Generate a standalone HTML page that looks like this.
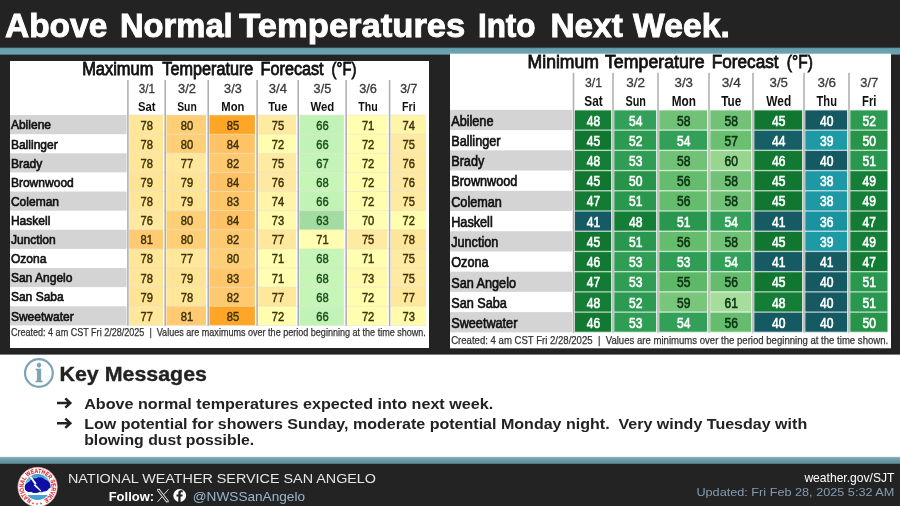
<!DOCTYPE html>
<html lang="en"><head><meta charset="utf-8"><title>Above Normal Temperatures Into Next Week.</title>
<style>html,body{margin:0;padding:0;background:#232323;}body{width:900px;height:506px;overflow:hidden;font-family:"Liberation Sans",Arial,sans-serif}svg{display:block}</style>
</head><body>
<svg width="900" height="506" viewBox="0 0 900 506" font-family="'Liberation Sans', Arial, sans-serif">
<defs><linearGradient id="tl2" x1="0" y1="0" x2="0" y2="1"><stop offset="0" stop-color="#a5c0ca"/><stop offset="0.15" stop-color="#7ea4b3"/><stop offset="0.8" stop-color="#5f909d"/><stop offset="1" stop-color="#466b75"/></linearGradient><linearGradient id="tl" x1="0" y1="0" x2="0" y2="1"><stop offset="0" stop-color="#3c5a63"/><stop offset="0.18" stop-color="#66a0ae"/><stop offset="1" stop-color="#6ca5b3"/></linearGradient></defs>
<rect width="900" height="506" fill="#232323"/>
<text y="36.7" font-size="33" font-weight="700" fill="#ffffff" stroke="#ffffff" stroke-width="0.9"><tspan x="5" textLength="102.3" lengthAdjust="spacingAndGlyphs">Above</tspan> <tspan x="120" textLength="112.7" lengthAdjust="spacingAndGlyphs">Normal</tspan> <tspan x="239.3" textLength="226.0" lengthAdjust="spacingAndGlyphs">Temperatures</tspan> <tspan x="477.9" textLength="57.7" lengthAdjust="spacingAndGlyphs">Into</tspan> <tspan x="550.4" textLength="72.4" lengthAdjust="spacingAndGlyphs">Next</tspan> <tspan x="633" textLength="97.0" lengthAdjust="spacingAndGlyphs">Week.</tspan></text>
<rect x="0" y="47.4" width="900" height="7.2" fill="url(#tl)"/>
<rect x="10" y="61" width="419" height="287" fill="#fff"/>
<text x="82.20" y="75.30" font-size="17.5" fill="#111" textLength="71.20" lengthAdjust="spacingAndGlyphs" stroke="#111" stroke-width="0.8">Maximum</text>
<text x="162.30" y="75.30" font-size="17.5" fill="#111" textLength="91.10" lengthAdjust="spacingAndGlyphs" stroke="#111" stroke-width="0.8">Temperature</text>
<text x="260.60" y="75.30" font-size="17.5" fill="#111" textLength="63.00" lengthAdjust="spacingAndGlyphs" stroke="#111" stroke-width="0.8">Forecast</text>
<text x="331.60" y="75.30" font-size="17.5" fill="#111" textLength="24.80" lengthAdjust="spacingAndGlyphs" stroke="#111" stroke-width="0.8">(°F)</text>
<rect x="10" y="115.05" width="116.50" height="19.12" fill="#d4d4d4"/>
<text x="10.90" y="129.39" font-size="13.3" fill="#111" textLength="40.15" lengthAdjust="spacingAndGlyphs" stroke="#111" stroke-width="0.65">Abilene</text>
<text x="10.90" y="148.51" font-size="13.3" fill="#111" textLength="46.84" lengthAdjust="spacingAndGlyphs" stroke="#111" stroke-width="0.65">Ballinger</text>
<rect x="10" y="153.29" width="116.50" height="19.12" fill="#d4d4d4"/>
<text x="10.90" y="167.63" font-size="13.3" fill="#111" textLength="31.44" lengthAdjust="spacingAndGlyphs" stroke="#111" stroke-width="0.65">Brady</text>
<text x="10.90" y="186.75" font-size="13.3" fill="#111" textLength="62.89" lengthAdjust="spacingAndGlyphs" stroke="#111" stroke-width="0.65">Brownwood</text>
<rect x="10" y="191.53" width="116.50" height="19.12" fill="#d4d4d4"/>
<text x="10.90" y="205.87" font-size="13.3" fill="#111" textLength="48.17" lengthAdjust="spacingAndGlyphs" stroke="#111" stroke-width="0.65">Coleman</text>
<text x="10.90" y="224.99" font-size="13.3" fill="#111" textLength="39.47" lengthAdjust="spacingAndGlyphs" stroke="#111" stroke-width="0.65">Haskell</text>
<rect x="10" y="229.77" width="116.50" height="19.12" fill="#d4d4d4"/>
<text x="10.90" y="244.11" font-size="13.3" fill="#111" textLength="44.83" lengthAdjust="spacingAndGlyphs" stroke="#111" stroke-width="0.65">Junction</text>
<text x="10.90" y="263.23" font-size="13.3" fill="#111" textLength="35.46" lengthAdjust="spacingAndGlyphs" stroke="#111" stroke-width="0.65">Ozona</text>
<rect x="10" y="268.01" width="116.50" height="19.12" fill="#d4d4d4"/>
<text x="10.90" y="282.35" font-size="13.3" fill="#111" textLength="61.58" lengthAdjust="spacingAndGlyphs" stroke="#111" stroke-width="0.65">San Angelo</text>
<text x="10.90" y="301.47" font-size="13.3" fill="#111" textLength="52.87" lengthAdjust="spacingAndGlyphs" stroke="#111" stroke-width="0.65">San Saba</text>
<rect x="10" y="306.25" width="116.50" height="19.12" fill="#d4d4d4"/>
<text x="10.90" y="320.59" font-size="13.3" fill="#111" textLength="62.89" lengthAdjust="spacingAndGlyphs" stroke="#111" stroke-width="0.65">Sweetwater</text>
<text x="146.80" y="93.00" font-size="12.3" fill="#3a3a3a" text-anchor="middle" textLength="16.23" lengthAdjust="spacingAndGlyphs" stroke="#3a3a3a" stroke-width="0.3">3/1</text>
<text x="146.80" y="110.90" font-size="13.4" fill="#111" font-weight="700" text-anchor="middle" textLength="17.57" lengthAdjust="spacingAndGlyphs">Sat</text>
<rect x="129.10" y="115.05" width="33.90" height="19.17" fill="#ffe699"/>
<text x="146.80" y="129.62" font-size="12.9" fill="#3d3208" text-anchor="middle" textLength="12.40" lengthAdjust="spacingAndGlyphs" stroke="#3d3208" stroke-width="0.45">78</text>
<rect x="129.10" y="134.17" width="33.90" height="19.17" fill="#ffe699"/>
<text x="146.80" y="148.74" font-size="12.9" fill="#3d3208" text-anchor="middle" textLength="12.40" lengthAdjust="spacingAndGlyphs" stroke="#3d3208" stroke-width="0.45">78</text>
<rect x="129.10" y="153.29" width="33.90" height="19.17" fill="#ffe699"/>
<text x="146.80" y="167.86" font-size="12.9" fill="#3d3208" text-anchor="middle" textLength="12.40" lengthAdjust="spacingAndGlyphs" stroke="#3d3208" stroke-width="0.45">78</text>
<rect x="129.10" y="172.41" width="33.90" height="19.17" fill="#ffe496"/>
<text x="146.80" y="186.98" font-size="12.9" fill="#3d3208" text-anchor="middle" textLength="12.40" lengthAdjust="spacingAndGlyphs" stroke="#3d3208" stroke-width="0.45">79</text>
<rect x="129.10" y="191.53" width="33.90" height="19.17" fill="#ffe699"/>
<text x="146.80" y="206.10" font-size="12.9" fill="#3d3208" text-anchor="middle" textLength="12.40" lengthAdjust="spacingAndGlyphs" stroke="#3d3208" stroke-width="0.45">78</text>
<rect x="129.10" y="210.65" width="33.90" height="19.17" fill="#ffe89f"/>
<text x="146.80" y="225.22" font-size="12.9" fill="#3d3208" text-anchor="middle" textLength="12.40" lengthAdjust="spacingAndGlyphs" stroke="#3d3208" stroke-width="0.45">76</text>
<rect x="129.10" y="229.77" width="33.90" height="19.17" fill="#ffca72"/>
<text x="146.80" y="244.34" font-size="12.9" fill="#3d3208" text-anchor="middle" textLength="12.40" lengthAdjust="spacingAndGlyphs" stroke="#3d3208" stroke-width="0.45">81</text>
<rect x="129.10" y="248.89" width="33.90" height="19.17" fill="#ffe699"/>
<text x="146.80" y="263.46" font-size="12.9" fill="#3d3208" text-anchor="middle" textLength="12.40" lengthAdjust="spacingAndGlyphs" stroke="#3d3208" stroke-width="0.45">78</text>
<rect x="129.10" y="268.01" width="33.90" height="19.17" fill="#ffe699"/>
<text x="146.80" y="282.58" font-size="12.9" fill="#3d3208" text-anchor="middle" textLength="12.40" lengthAdjust="spacingAndGlyphs" stroke="#3d3208" stroke-width="0.45">78</text>
<rect x="129.10" y="287.13" width="33.90" height="19.17" fill="#ffe496"/>
<text x="146.80" y="301.70" font-size="12.9" fill="#3d3208" text-anchor="middle" textLength="12.40" lengthAdjust="spacingAndGlyphs" stroke="#3d3208" stroke-width="0.45">79</text>
<rect x="129.10" y="306.25" width="33.90" height="19.17" fill="#ffe79c"/>
<text x="146.80" y="320.82" font-size="12.9" fill="#3d3208" text-anchor="middle" textLength="12.40" lengthAdjust="spacingAndGlyphs" stroke="#3d3208" stroke-width="0.45">77</text>
<text x="186.95" y="93.00" font-size="12.3" fill="#3a3a3a" text-anchor="middle" textLength="17.95" lengthAdjust="spacingAndGlyphs" stroke="#3a3a3a" stroke-width="0.3">3/2</text>
<text x="186.95" y="110.90" font-size="13.4" fill="#111" font-weight="700" text-anchor="middle" textLength="19.58" lengthAdjust="spacingAndGlyphs">Sun</text>
<rect x="166.40" y="115.05" width="39.60" height="19.17" fill="#ffcf78"/>
<text x="186.95" y="129.62" font-size="12.9" fill="#3d3208" text-anchor="middle" textLength="12.40" lengthAdjust="spacingAndGlyphs" stroke="#3d3208" stroke-width="0.45">80</text>
<rect x="166.40" y="134.17" width="39.60" height="19.17" fill="#ffcf78"/>
<text x="186.95" y="148.74" font-size="12.9" fill="#3d3208" text-anchor="middle" textLength="12.40" lengthAdjust="spacingAndGlyphs" stroke="#3d3208" stroke-width="0.45">80</text>
<rect x="166.40" y="153.29" width="39.60" height="19.17" fill="#ffe79c"/>
<text x="186.95" y="167.86" font-size="12.9" fill="#3d3208" text-anchor="middle" textLength="12.40" lengthAdjust="spacingAndGlyphs" stroke="#3d3208" stroke-width="0.45">77</text>
<rect x="166.40" y="172.41" width="39.60" height="19.17" fill="#ffe496"/>
<text x="186.95" y="186.98" font-size="12.9" fill="#3d3208" text-anchor="middle" textLength="12.40" lengthAdjust="spacingAndGlyphs" stroke="#3d3208" stroke-width="0.45">79</text>
<rect x="166.40" y="191.53" width="39.60" height="19.17" fill="#ffe496"/>
<text x="186.95" y="206.10" font-size="12.9" fill="#3d3208" text-anchor="middle" textLength="12.40" lengthAdjust="spacingAndGlyphs" stroke="#3d3208" stroke-width="0.45">79</text>
<rect x="166.40" y="210.65" width="39.60" height="19.17" fill="#ffcf78"/>
<text x="186.95" y="225.22" font-size="12.9" fill="#3d3208" text-anchor="middle" textLength="12.40" lengthAdjust="spacingAndGlyphs" stroke="#3d3208" stroke-width="0.45">80</text>
<rect x="166.40" y="229.77" width="39.60" height="19.17" fill="#ffcf78"/>
<text x="186.95" y="244.34" font-size="12.9" fill="#3d3208" text-anchor="middle" textLength="12.40" lengthAdjust="spacingAndGlyphs" stroke="#3d3208" stroke-width="0.45">80</text>
<rect x="166.40" y="248.89" width="39.60" height="19.17" fill="#ffe79c"/>
<text x="186.95" y="263.46" font-size="12.9" fill="#3d3208" text-anchor="middle" textLength="12.40" lengthAdjust="spacingAndGlyphs" stroke="#3d3208" stroke-width="0.45">77</text>
<rect x="166.40" y="268.01" width="39.60" height="19.17" fill="#ffe496"/>
<text x="186.95" y="282.58" font-size="12.9" fill="#3d3208" text-anchor="middle" textLength="12.40" lengthAdjust="spacingAndGlyphs" stroke="#3d3208" stroke-width="0.45">79</text>
<rect x="166.40" y="287.13" width="39.60" height="19.17" fill="#ffe699"/>
<text x="186.95" y="301.70" font-size="12.9" fill="#3d3208" text-anchor="middle" textLength="12.40" lengthAdjust="spacingAndGlyphs" stroke="#3d3208" stroke-width="0.45">78</text>
<rect x="166.40" y="306.25" width="39.60" height="19.17" fill="#ffca72"/>
<text x="186.95" y="320.82" font-size="12.9" fill="#3d3208" text-anchor="middle" textLength="12.40" lengthAdjust="spacingAndGlyphs" stroke="#3d3208" stroke-width="0.45">81</text>
<text x="232.90" y="93.00" font-size="12.3" fill="#3a3a3a" text-anchor="middle" textLength="17.57" lengthAdjust="spacingAndGlyphs" stroke="#3a3a3a" stroke-width="0.3">3/3</text>
<text x="232.90" y="110.90" font-size="13.4" fill="#111" font-weight="700" text-anchor="middle" textLength="23.11" lengthAdjust="spacingAndGlyphs">Mon</text>
<rect x="209.40" y="115.05" width="45.50" height="19.17" fill="#ffa626"/>
<text x="232.90" y="129.62" font-size="12.9" fill="#3d3208" text-anchor="middle" textLength="12.40" lengthAdjust="spacingAndGlyphs" stroke="#3d3208" stroke-width="0.45">85</text>
<rect x="209.40" y="134.17" width="45.50" height="19.17" fill="#ffc264"/>
<text x="232.90" y="148.74" font-size="12.9" fill="#3d3208" text-anchor="middle" textLength="12.40" lengthAdjust="spacingAndGlyphs" stroke="#3d3208" stroke-width="0.45">84</text>
<rect x="209.40" y="153.29" width="45.50" height="19.17" fill="#ffc970"/>
<text x="232.90" y="167.86" font-size="12.9" fill="#3d3208" text-anchor="middle" textLength="12.40" lengthAdjust="spacingAndGlyphs" stroke="#3d3208" stroke-width="0.45">82</text>
<rect x="209.40" y="172.41" width="45.50" height="19.17" fill="#ffc264"/>
<text x="232.90" y="186.98" font-size="12.9" fill="#3d3208" text-anchor="middle" textLength="12.40" lengthAdjust="spacingAndGlyphs" stroke="#3d3208" stroke-width="0.45">84</text>
<rect x="209.40" y="191.53" width="45.50" height="19.17" fill="#ffc66a"/>
<text x="232.90" y="206.10" font-size="12.9" fill="#3d3208" text-anchor="middle" textLength="12.40" lengthAdjust="spacingAndGlyphs" stroke="#3d3208" stroke-width="0.45">83</text>
<rect x="209.40" y="210.65" width="45.50" height="19.17" fill="#ffc264"/>
<text x="232.90" y="225.22" font-size="12.9" fill="#3d3208" text-anchor="middle" textLength="12.40" lengthAdjust="spacingAndGlyphs" stroke="#3d3208" stroke-width="0.45">84</text>
<rect x="209.40" y="229.77" width="45.50" height="19.17" fill="#ffc970"/>
<text x="232.90" y="244.34" font-size="12.9" fill="#3d3208" text-anchor="middle" textLength="12.40" lengthAdjust="spacingAndGlyphs" stroke="#3d3208" stroke-width="0.45">82</text>
<rect x="209.40" y="248.89" width="45.50" height="19.17" fill="#ffcf78"/>
<text x="232.90" y="263.46" font-size="12.9" fill="#3d3208" text-anchor="middle" textLength="12.40" lengthAdjust="spacingAndGlyphs" stroke="#3d3208" stroke-width="0.45">80</text>
<rect x="209.40" y="268.01" width="45.50" height="19.17" fill="#ffc66a"/>
<text x="232.90" y="282.58" font-size="12.9" fill="#3d3208" text-anchor="middle" textLength="12.40" lengthAdjust="spacingAndGlyphs" stroke="#3d3208" stroke-width="0.45">83</text>
<rect x="209.40" y="287.13" width="45.50" height="19.17" fill="#ffc970"/>
<text x="232.90" y="301.70" font-size="12.9" fill="#3d3208" text-anchor="middle" textLength="12.40" lengthAdjust="spacingAndGlyphs" stroke="#3d3208" stroke-width="0.45">82</text>
<rect x="209.40" y="306.25" width="45.50" height="19.17" fill="#ffa626"/>
<text x="232.90" y="320.82" font-size="12.9" fill="#3d3208" text-anchor="middle" textLength="12.40" lengthAdjust="spacingAndGlyphs" stroke="#3d3208" stroke-width="0.45">85</text>
<text x="277.90" y="93.00" font-size="12.3" fill="#3a3a3a" text-anchor="middle" textLength="18.14" lengthAdjust="spacingAndGlyphs" stroke="#3a3a3a" stroke-width="0.3">3/4</text>
<text x="277.90" y="110.90" font-size="13.4" fill="#111" font-weight="700" text-anchor="middle" textLength="19.10" lengthAdjust="spacingAndGlyphs">Tue</text>
<rect x="258.30" y="115.05" width="37.70" height="19.17" fill="#ffeaa2"/>
<text x="277.90" y="129.62" font-size="12.9" fill="#3d3208" text-anchor="middle" textLength="12.40" lengthAdjust="spacingAndGlyphs" stroke="#3d3208" stroke-width="0.45">75</text>
<rect x="258.30" y="134.17" width="37.70" height="19.17" fill="#fffdae"/>
<text x="277.90" y="148.74" font-size="12.9" fill="#3d3208" text-anchor="middle" textLength="12.40" lengthAdjust="spacingAndGlyphs" stroke="#3d3208" stroke-width="0.45">72</text>
<rect x="258.30" y="153.29" width="37.70" height="19.17" fill="#ffeaa2"/>
<text x="277.90" y="167.86" font-size="12.9" fill="#3d3208" text-anchor="middle" textLength="12.40" lengthAdjust="spacingAndGlyphs" stroke="#3d3208" stroke-width="0.45">75</text>
<rect x="258.30" y="172.41" width="37.70" height="19.17" fill="#ffe89f"/>
<text x="277.90" y="186.98" font-size="12.9" fill="#3d3208" text-anchor="middle" textLength="12.40" lengthAdjust="spacingAndGlyphs" stroke="#3d3208" stroke-width="0.45">76</text>
<rect x="258.30" y="191.53" width="37.70" height="19.17" fill="#fff5a8"/>
<text x="277.90" y="206.10" font-size="12.9" fill="#3d3208" text-anchor="middle" textLength="12.40" lengthAdjust="spacingAndGlyphs" stroke="#3d3208" stroke-width="0.45">74</text>
<rect x="258.30" y="210.65" width="37.70" height="19.17" fill="#fffaac"/>
<text x="277.90" y="225.22" font-size="12.9" fill="#3d3208" text-anchor="middle" textLength="12.40" lengthAdjust="spacingAndGlyphs" stroke="#3d3208" stroke-width="0.45">73</text>
<rect x="258.30" y="229.77" width="37.70" height="19.17" fill="#ffe79c"/>
<text x="277.90" y="244.34" font-size="12.9" fill="#3d3208" text-anchor="middle" textLength="12.40" lengthAdjust="spacingAndGlyphs" stroke="#3d3208" stroke-width="0.45">77</text>
<rect x="258.30" y="248.89" width="37.70" height="19.17" fill="#fffeb1"/>
<text x="277.90" y="263.46" font-size="12.9" fill="#3d3208" text-anchor="middle" textLength="12.40" lengthAdjust="spacingAndGlyphs" stroke="#3d3208" stroke-width="0.45">71</text>
<rect x="258.30" y="268.01" width="37.70" height="19.17" fill="#fffeb1"/>
<text x="277.90" y="282.58" font-size="12.9" fill="#3d3208" text-anchor="middle" textLength="12.40" lengthAdjust="spacingAndGlyphs" stroke="#3d3208" stroke-width="0.45">71</text>
<rect x="258.30" y="287.13" width="37.70" height="19.17" fill="#ffe79c"/>
<text x="277.90" y="301.70" font-size="12.9" fill="#3d3208" text-anchor="middle" textLength="12.40" lengthAdjust="spacingAndGlyphs" stroke="#3d3208" stroke-width="0.45">77</text>
<rect x="258.30" y="306.25" width="37.70" height="19.17" fill="#fffdae"/>
<text x="277.90" y="320.82" font-size="12.9" fill="#3d3208" text-anchor="middle" textLength="12.40" lengthAdjust="spacingAndGlyphs" stroke="#3d3208" stroke-width="0.45">72</text>
<text x="322.40" y="93.00" font-size="12.3" fill="#3a3a3a" text-anchor="middle" textLength="17.57" lengthAdjust="spacingAndGlyphs" stroke="#3a3a3a" stroke-width="0.3">3/5</text>
<text x="322.40" y="110.90" font-size="13.4" fill="#111" font-weight="700" text-anchor="middle" textLength="23.78" lengthAdjust="spacingAndGlyphs">Wed</text>
<rect x="299.40" y="115.05" width="44.50" height="19.17" fill="#c2f3b6"/>
<text x="322.40" y="129.62" font-size="12.9" fill="#1f4d1f" text-anchor="middle" textLength="12.40" lengthAdjust="spacingAndGlyphs" stroke="#1f4d1f" stroke-width="0.45">66</text>
<rect x="299.40" y="134.17" width="44.50" height="19.17" fill="#c2f3b6"/>
<text x="322.40" y="148.74" font-size="12.9" fill="#1f4d1f" text-anchor="middle" textLength="12.40" lengthAdjust="spacingAndGlyphs" stroke="#1f4d1f" stroke-width="0.45">66</text>
<rect x="299.40" y="153.29" width="44.50" height="19.17" fill="#c4f4b7"/>
<text x="322.40" y="167.86" font-size="12.9" fill="#1f4d1f" text-anchor="middle" textLength="12.40" lengthAdjust="spacingAndGlyphs" stroke="#1f4d1f" stroke-width="0.45">67</text>
<rect x="299.40" y="172.41" width="44.50" height="19.17" fill="#c6f5b8"/>
<text x="322.40" y="186.98" font-size="12.9" fill="#1f4d1f" text-anchor="middle" textLength="12.40" lengthAdjust="spacingAndGlyphs" stroke="#1f4d1f" stroke-width="0.45">68</text>
<rect x="299.40" y="191.53" width="44.50" height="19.17" fill="#c2f3b6"/>
<text x="322.40" y="206.10" font-size="12.9" fill="#1f4d1f" text-anchor="middle" textLength="12.40" lengthAdjust="spacingAndGlyphs" stroke="#1f4d1f" stroke-width="0.45">66</text>
<rect x="299.40" y="210.65" width="44.50" height="19.17" fill="#a3dca0"/>
<text x="322.40" y="225.22" font-size="12.9" fill="#1f4d1f" text-anchor="middle" textLength="12.40" lengthAdjust="spacingAndGlyphs" stroke="#1f4d1f" stroke-width="0.45">63</text>
<rect x="299.40" y="229.77" width="44.50" height="19.17" fill="#fffeb1"/>
<text x="322.40" y="244.34" font-size="12.9" fill="#3d3208" text-anchor="middle" textLength="12.40" lengthAdjust="spacingAndGlyphs" stroke="#3d3208" stroke-width="0.45">71</text>
<rect x="299.40" y="248.89" width="44.50" height="19.17" fill="#c6f5b8"/>
<text x="322.40" y="263.46" font-size="12.9" fill="#1f4d1f" text-anchor="middle" textLength="12.40" lengthAdjust="spacingAndGlyphs" stroke="#1f4d1f" stroke-width="0.45">68</text>
<rect x="299.40" y="268.01" width="44.50" height="19.17" fill="#c6f5b8"/>
<text x="322.40" y="282.58" font-size="12.9" fill="#1f4d1f" text-anchor="middle" textLength="12.40" lengthAdjust="spacingAndGlyphs" stroke="#1f4d1f" stroke-width="0.45">68</text>
<rect x="299.40" y="287.13" width="44.50" height="19.17" fill="#c6f5b8"/>
<text x="322.40" y="301.70" font-size="12.9" fill="#1f4d1f" text-anchor="middle" textLength="12.40" lengthAdjust="spacingAndGlyphs" stroke="#1f4d1f" stroke-width="0.45">68</text>
<rect x="299.40" y="306.25" width="44.50" height="19.17" fill="#c2f3b6"/>
<text x="322.40" y="320.82" font-size="12.9" fill="#1f4d1f" text-anchor="middle" textLength="12.40" lengthAdjust="spacingAndGlyphs" stroke="#1f4d1f" stroke-width="0.45">66</text>
<text x="368.10" y="93.00" font-size="12.3" fill="#3a3a3a" text-anchor="middle" textLength="17.76" lengthAdjust="spacingAndGlyphs" stroke="#3a3a3a" stroke-width="0.3">3/6</text>
<text x="368.10" y="110.90" font-size="13.4" fill="#111" font-weight="700" text-anchor="middle" textLength="19.48" lengthAdjust="spacingAndGlyphs">Thu</text>
<rect x="347.30" y="115.05" width="40.10" height="19.17" fill="#fffeb1"/>
<text x="368.10" y="129.62" font-size="12.9" fill="#3d3208" text-anchor="middle" textLength="12.40" lengthAdjust="spacingAndGlyphs" stroke="#3d3208" stroke-width="0.45">71</text>
<rect x="347.30" y="134.17" width="40.10" height="19.17" fill="#fffdae"/>
<text x="368.10" y="148.74" font-size="12.9" fill="#3d3208" text-anchor="middle" textLength="12.40" lengthAdjust="spacingAndGlyphs" stroke="#3d3208" stroke-width="0.45">72</text>
<rect x="347.30" y="153.29" width="40.10" height="19.17" fill="#fffdae"/>
<text x="368.10" y="167.86" font-size="12.9" fill="#3d3208" text-anchor="middle" textLength="12.40" lengthAdjust="spacingAndGlyphs" stroke="#3d3208" stroke-width="0.45">72</text>
<rect x="347.30" y="172.41" width="40.10" height="19.17" fill="#fffdae"/>
<text x="368.10" y="186.98" font-size="12.9" fill="#3d3208" text-anchor="middle" textLength="12.40" lengthAdjust="spacingAndGlyphs" stroke="#3d3208" stroke-width="0.45">72</text>
<rect x="347.30" y="191.53" width="40.10" height="19.17" fill="#fffdae"/>
<text x="368.10" y="206.10" font-size="12.9" fill="#3d3208" text-anchor="middle" textLength="12.40" lengthAdjust="spacingAndGlyphs" stroke="#3d3208" stroke-width="0.45">72</text>
<rect x="347.30" y="210.65" width="40.10" height="19.17" fill="#ffffb4"/>
<text x="368.10" y="225.22" font-size="12.9" fill="#3d3208" text-anchor="middle" textLength="12.40" lengthAdjust="spacingAndGlyphs" stroke="#3d3208" stroke-width="0.45">70</text>
<rect x="347.30" y="229.77" width="40.10" height="19.17" fill="#ffeaa2"/>
<text x="368.10" y="244.34" font-size="12.9" fill="#3d3208" text-anchor="middle" textLength="12.40" lengthAdjust="spacingAndGlyphs" stroke="#3d3208" stroke-width="0.45">75</text>
<rect x="347.30" y="248.89" width="40.10" height="19.17" fill="#fffeb1"/>
<text x="368.10" y="263.46" font-size="12.9" fill="#3d3208" text-anchor="middle" textLength="12.40" lengthAdjust="spacingAndGlyphs" stroke="#3d3208" stroke-width="0.45">71</text>
<rect x="347.30" y="268.01" width="40.10" height="19.17" fill="#fffaac"/>
<text x="368.10" y="282.58" font-size="12.9" fill="#3d3208" text-anchor="middle" textLength="12.40" lengthAdjust="spacingAndGlyphs" stroke="#3d3208" stroke-width="0.45">73</text>
<rect x="347.30" y="287.13" width="40.10" height="19.17" fill="#fffdae"/>
<text x="368.10" y="301.70" font-size="12.9" fill="#3d3208" text-anchor="middle" textLength="12.40" lengthAdjust="spacingAndGlyphs" stroke="#3d3208" stroke-width="0.45">72</text>
<rect x="347.30" y="306.25" width="40.10" height="19.17" fill="#fffdae"/>
<text x="368.10" y="320.82" font-size="12.9" fill="#3d3208" text-anchor="middle" textLength="12.40" lengthAdjust="spacingAndGlyphs" stroke="#3d3208" stroke-width="0.45">72</text>
<text x="408.80" y="93.00" font-size="12.3" fill="#3a3a3a" text-anchor="middle" textLength="17.09" lengthAdjust="spacingAndGlyphs" stroke="#3a3a3a" stroke-width="0.3">3/7</text>
<text x="408.80" y="110.90" font-size="13.4" fill="#111" font-weight="700" text-anchor="middle" textLength="13.75" lengthAdjust="spacingAndGlyphs">Fri</text>
<rect x="390.80" y="115.05" width="35.20" height="19.17" fill="#fff5a8"/>
<text x="408.80" y="129.62" font-size="12.9" fill="#3d3208" text-anchor="middle" textLength="12.40" lengthAdjust="spacingAndGlyphs" stroke="#3d3208" stroke-width="0.45">74</text>
<rect x="390.80" y="134.17" width="35.20" height="19.17" fill="#ffeaa2"/>
<text x="408.80" y="148.74" font-size="12.9" fill="#3d3208" text-anchor="middle" textLength="12.40" lengthAdjust="spacingAndGlyphs" stroke="#3d3208" stroke-width="0.45">75</text>
<rect x="390.80" y="153.29" width="35.20" height="19.17" fill="#ffe89f"/>
<text x="408.80" y="167.86" font-size="12.9" fill="#3d3208" text-anchor="middle" textLength="12.40" lengthAdjust="spacingAndGlyphs" stroke="#3d3208" stroke-width="0.45">76</text>
<rect x="390.80" y="172.41" width="35.20" height="19.17" fill="#ffe89f"/>
<text x="408.80" y="186.98" font-size="12.9" fill="#3d3208" text-anchor="middle" textLength="12.40" lengthAdjust="spacingAndGlyphs" stroke="#3d3208" stroke-width="0.45">76</text>
<rect x="390.80" y="191.53" width="35.20" height="19.17" fill="#ffeaa2"/>
<text x="408.80" y="206.10" font-size="12.9" fill="#3d3208" text-anchor="middle" textLength="12.40" lengthAdjust="spacingAndGlyphs" stroke="#3d3208" stroke-width="0.45">75</text>
<rect x="390.80" y="210.65" width="35.20" height="19.17" fill="#fffdae"/>
<text x="408.80" y="225.22" font-size="12.9" fill="#3d3208" text-anchor="middle" textLength="12.40" lengthAdjust="spacingAndGlyphs" stroke="#3d3208" stroke-width="0.45">72</text>
<rect x="390.80" y="229.77" width="35.20" height="19.17" fill="#ffe699"/>
<text x="408.80" y="244.34" font-size="12.9" fill="#3d3208" text-anchor="middle" textLength="12.40" lengthAdjust="spacingAndGlyphs" stroke="#3d3208" stroke-width="0.45">78</text>
<rect x="390.80" y="248.89" width="35.20" height="19.17" fill="#ffeaa2"/>
<text x="408.80" y="263.46" font-size="12.9" fill="#3d3208" text-anchor="middle" textLength="12.40" lengthAdjust="spacingAndGlyphs" stroke="#3d3208" stroke-width="0.45">75</text>
<rect x="390.80" y="268.01" width="35.20" height="19.17" fill="#ffeaa2"/>
<text x="408.80" y="282.58" font-size="12.9" fill="#3d3208" text-anchor="middle" textLength="12.40" lengthAdjust="spacingAndGlyphs" stroke="#3d3208" stroke-width="0.45">75</text>
<rect x="390.80" y="287.13" width="35.20" height="19.17" fill="#ffe79c"/>
<text x="408.80" y="301.70" font-size="12.9" fill="#3d3208" text-anchor="middle" textLength="12.40" lengthAdjust="spacingAndGlyphs" stroke="#3d3208" stroke-width="0.45">77</text>
<rect x="390.80" y="306.25" width="35.20" height="19.17" fill="#fffaac"/>
<text x="408.80" y="320.82" font-size="12.9" fill="#3d3208" text-anchor="middle" textLength="12.40" lengthAdjust="spacingAndGlyphs" stroke="#3d3208" stroke-width="0.45">73</text>
<rect x="129.10" y="114.60" width="296.90" height="0.90" fill="rgba(225,222,205,0.55)"/>
<rect x="129.10" y="133.72" width="296.90" height="0.90" fill="rgba(225,222,205,0.55)"/>
<rect x="129.10" y="152.84" width="296.90" height="0.90" fill="rgba(225,222,205,0.55)"/>
<rect x="129.10" y="171.96" width="296.90" height="0.90" fill="rgba(225,222,205,0.55)"/>
<rect x="129.10" y="191.08" width="296.90" height="0.90" fill="rgba(225,222,205,0.55)"/>
<rect x="129.10" y="210.20" width="296.90" height="0.90" fill="rgba(225,222,205,0.55)"/>
<rect x="129.10" y="229.32" width="296.90" height="0.90" fill="rgba(225,222,205,0.55)"/>
<rect x="129.10" y="248.44" width="296.90" height="0.90" fill="rgba(225,222,205,0.55)"/>
<rect x="129.10" y="267.56" width="296.90" height="0.90" fill="rgba(225,222,205,0.55)"/>
<rect x="129.10" y="286.68" width="296.90" height="0.90" fill="rgba(225,222,205,0.55)"/>
<rect x="129.10" y="305.80" width="296.90" height="0.90" fill="rgba(225,222,205,0.55)"/>
<rect x="129.10" y="324.92" width="296.90" height="0.90" fill="rgba(225,222,205,0.55)"/>
<rect x="127.15" y="80" width="1.5" height="245.77" fill="#adadad"/>
<rect x="164.45" y="80" width="1.5" height="245.77" fill="#adadad"/>
<rect x="207.45" y="80" width="1.5" height="245.77" fill="#adadad"/>
<rect x="256.35" y="80" width="1.5" height="245.77" fill="#adadad"/>
<rect x="297.45" y="80" width="1.5" height="245.77" fill="#adadad"/>
<rect x="345.35" y="80" width="1.5" height="245.77" fill="#adadad"/>
<rect x="388.85" y="80" width="1.5" height="245.77" fill="#adadad"/>
<text x="10.90" y="336.40" font-size="10.7" fill="#333" textLength="415.00" lengthAdjust="spacingAndGlyphs" stroke="#333" stroke-width="0.25">Created: 4 am CST Fri 2/28/2025  |  Values are maximums over the period beginning at the time shown.</text>
<rect x="450" y="53.7" width="441" height="294.6" fill="#fff"/>
<text x="527.60" y="68.10" font-size="18.7" fill="#111" textLength="71.40" lengthAdjust="spacingAndGlyphs" stroke="#111" stroke-width="0.8">Minimum</text>
<text x="605.00" y="68.10" font-size="18.7" fill="#111" textLength="99.60" lengthAdjust="spacingAndGlyphs" stroke="#111" stroke-width="0.8">Temperature</text>
<text x="711.80" y="68.10" font-size="18.7" fill="#111" textLength="66.80" lengthAdjust="spacingAndGlyphs" stroke="#111" stroke-width="0.8">Forecast</text>
<text x="786.80" y="68.10" font-size="18.7" fill="#111" textLength="26.00" lengthAdjust="spacingAndGlyphs" stroke="#111" stroke-width="0.8">(°F)</text>
<rect x="450" y="109.90" width="122.10" height="20.22" fill="#d4d4d4"/>
<text x="451.20" y="125.77" font-size="14" fill="#111" textLength="42.27" lengthAdjust="spacingAndGlyphs" stroke="#111" stroke-width="0.65">Abilene</text>
<text x="451.20" y="145.99" font-size="14" fill="#111" textLength="49.30" lengthAdjust="spacingAndGlyphs" stroke="#111" stroke-width="0.65">Ballinger</text>
<rect x="450" y="150.34" width="122.10" height="20.22" fill="#d4d4d4"/>
<text x="451.20" y="166.21" font-size="14" fill="#111" textLength="33.10" lengthAdjust="spacingAndGlyphs" stroke="#111" stroke-width="0.65">Brady</text>
<text x="451.20" y="186.43" font-size="14" fill="#111" textLength="66.20" lengthAdjust="spacingAndGlyphs" stroke="#111" stroke-width="0.65">Brownwood</text>
<rect x="450" y="190.78" width="122.10" height="20.22" fill="#d4d4d4"/>
<text x="451.20" y="206.65" font-size="14" fill="#111" textLength="50.71" lengthAdjust="spacingAndGlyphs" stroke="#111" stroke-width="0.65">Coleman</text>
<text x="451.20" y="226.87" font-size="14" fill="#111" textLength="41.54" lengthAdjust="spacingAndGlyphs" stroke="#111" stroke-width="0.65">Haskell</text>
<rect x="450" y="231.22" width="122.10" height="20.22" fill="#d4d4d4"/>
<text x="451.20" y="247.09" font-size="14" fill="#111" textLength="47.19" lengthAdjust="spacingAndGlyphs" stroke="#111" stroke-width="0.65">Junction</text>
<text x="451.20" y="267.31" font-size="14" fill="#111" textLength="37.33" lengthAdjust="spacingAndGlyphs" stroke="#111" stroke-width="0.65">Ozona</text>
<rect x="450" y="271.66" width="122.10" height="20.22" fill="#d4d4d4"/>
<text x="451.20" y="287.53" font-size="14" fill="#111" textLength="64.82" lengthAdjust="spacingAndGlyphs" stroke="#111" stroke-width="0.65">San Angelo</text>
<text x="451.20" y="307.75" font-size="14" fill="#111" textLength="55.66" lengthAdjust="spacingAndGlyphs" stroke="#111" stroke-width="0.65">San Saba</text>
<rect x="450" y="312.10" width="122.10" height="20.22" fill="#d4d4d4"/>
<text x="451.20" y="327.97" font-size="14" fill="#111" textLength="66.20" lengthAdjust="spacingAndGlyphs" stroke="#111" stroke-width="0.65">Sweetwater</text>
<text x="593.50" y="87.00" font-size="12.9" fill="#3a3a3a" text-anchor="middle" textLength="17.00" lengthAdjust="spacingAndGlyphs" stroke="#3a3a3a" stroke-width="0.3">3/1</text>
<text x="593.50" y="106.00" font-size="14.4" fill="#111" font-weight="700" text-anchor="middle" textLength="18.40" lengthAdjust="spacingAndGlyphs">Sat</text>
<rect x="574.80" y="109.90" width="36.40" height="20.27" fill="#147d36"/>
<text x="593.50" y="125.57" font-size="13.9" fill="#ffffff" text-anchor="middle" textLength="13.40" lengthAdjust="spacingAndGlyphs" stroke="#ffffff" stroke-width="0.6">48</text>
<rect x="574.80" y="130.12" width="36.40" height="20.27" fill="#117730"/>
<text x="593.50" y="145.79" font-size="13.9" fill="#ffffff" text-anchor="middle" textLength="13.40" lengthAdjust="spacingAndGlyphs" stroke="#ffffff" stroke-width="0.6">45</text>
<rect x="574.80" y="150.34" width="36.40" height="20.27" fill="#147d36"/>
<text x="593.50" y="166.01" font-size="13.9" fill="#ffffff" text-anchor="middle" textLength="13.40" lengthAdjust="spacingAndGlyphs" stroke="#ffffff" stroke-width="0.6">48</text>
<rect x="574.80" y="170.56" width="36.40" height="20.27" fill="#117730"/>
<text x="593.50" y="186.23" font-size="13.9" fill="#ffffff" text-anchor="middle" textLength="13.40" lengthAdjust="spacingAndGlyphs" stroke="#ffffff" stroke-width="0.6">45</text>
<rect x="574.80" y="190.78" width="36.40" height="20.27" fill="#137b34"/>
<text x="593.50" y="206.45" font-size="13.9" fill="#ffffff" text-anchor="middle" textLength="13.40" lengthAdjust="spacingAndGlyphs" stroke="#ffffff" stroke-width="0.6">47</text>
<rect x="574.80" y="211.00" width="36.40" height="20.27" fill="#165b63"/>
<text x="593.50" y="226.67" font-size="13.9" fill="#ffffff" text-anchor="middle" textLength="13.40" lengthAdjust="spacingAndGlyphs" stroke="#ffffff" stroke-width="0.6">41</text>
<rect x="574.80" y="231.22" width="36.40" height="20.27" fill="#117730"/>
<text x="593.50" y="246.89" font-size="13.9" fill="#ffffff" text-anchor="middle" textLength="13.40" lengthAdjust="spacingAndGlyphs" stroke="#ffffff" stroke-width="0.6">45</text>
<rect x="574.80" y="251.44" width="36.40" height="20.27" fill="#127932"/>
<text x="593.50" y="267.11" font-size="13.9" fill="#ffffff" text-anchor="middle" textLength="13.40" lengthAdjust="spacingAndGlyphs" stroke="#ffffff" stroke-width="0.6">46</text>
<rect x="574.80" y="271.66" width="36.40" height="20.27" fill="#137b34"/>
<text x="593.50" y="287.33" font-size="13.9" fill="#ffffff" text-anchor="middle" textLength="13.40" lengthAdjust="spacingAndGlyphs" stroke="#ffffff" stroke-width="0.6">47</text>
<rect x="574.80" y="291.88" width="36.40" height="20.27" fill="#147d36"/>
<text x="593.50" y="307.55" font-size="13.9" fill="#ffffff" text-anchor="middle" textLength="13.40" lengthAdjust="spacingAndGlyphs" stroke="#ffffff" stroke-width="0.6">48</text>
<rect x="574.80" y="312.10" width="36.40" height="20.27" fill="#127932"/>
<text x="593.50" y="327.77" font-size="13.9" fill="#ffffff" text-anchor="middle" textLength="13.40" lengthAdjust="spacingAndGlyphs" stroke="#ffffff" stroke-width="0.6">46</text>
<text x="635.75" y="87.00" font-size="12.9" fill="#3a3a3a" text-anchor="middle" textLength="18.80" lengthAdjust="spacingAndGlyphs" stroke="#3a3a3a" stroke-width="0.3">3/2</text>
<text x="635.75" y="106.00" font-size="14.4" fill="#111" font-weight="700" text-anchor="middle" textLength="20.50" lengthAdjust="spacingAndGlyphs">Sun</text>
<rect x="614.30" y="109.90" width="41.90" height="20.27" fill="#32a058"/>
<text x="635.75" y="125.57" font-size="13.9" fill="#ffffff" text-anchor="middle" textLength="13.40" lengthAdjust="spacingAndGlyphs" stroke="#ffffff" stroke-width="0.6">54</text>
<rect x="614.30" y="130.12" width="41.90" height="20.27" fill="#2c9a51"/>
<text x="635.75" y="145.79" font-size="13.9" fill="#ffffff" text-anchor="middle" textLength="13.40" lengthAdjust="spacingAndGlyphs" stroke="#ffffff" stroke-width="0.6">52</text>
<rect x="614.30" y="150.34" width="41.90" height="20.27" fill="#2f9d54"/>
<text x="635.75" y="166.01" font-size="13.9" fill="#ffffff" text-anchor="middle" textLength="13.40" lengthAdjust="spacingAndGlyphs" stroke="#ffffff" stroke-width="0.6">53</text>
<rect x="614.30" y="170.56" width="41.90" height="20.27" fill="#27944a"/>
<text x="635.75" y="186.23" font-size="13.9" fill="#ffffff" text-anchor="middle" textLength="13.40" lengthAdjust="spacingAndGlyphs" stroke="#ffffff" stroke-width="0.6">50</text>
<rect x="614.30" y="190.78" width="41.90" height="20.27" fill="#2a974e"/>
<text x="635.75" y="206.45" font-size="13.9" fill="#ffffff" text-anchor="middle" textLength="13.40" lengthAdjust="spacingAndGlyphs" stroke="#ffffff" stroke-width="0.6">51</text>
<rect x="614.30" y="211.00" width="41.90" height="20.27" fill="#147d36"/>
<text x="635.75" y="226.67" font-size="13.9" fill="#ffffff" text-anchor="middle" textLength="13.40" lengthAdjust="spacingAndGlyphs" stroke="#ffffff" stroke-width="0.6">48</text>
<rect x="614.30" y="231.22" width="41.90" height="20.27" fill="#2a974e"/>
<text x="635.75" y="246.89" font-size="13.9" fill="#ffffff" text-anchor="middle" textLength="13.40" lengthAdjust="spacingAndGlyphs" stroke="#ffffff" stroke-width="0.6">51</text>
<rect x="614.30" y="251.44" width="41.90" height="20.27" fill="#2f9d54"/>
<text x="635.75" y="267.11" font-size="13.9" fill="#ffffff" text-anchor="middle" textLength="13.40" lengthAdjust="spacingAndGlyphs" stroke="#ffffff" stroke-width="0.6">53</text>
<rect x="614.30" y="271.66" width="41.90" height="20.27" fill="#2f9d54"/>
<text x="635.75" y="287.33" font-size="13.9" fill="#ffffff" text-anchor="middle" textLength="13.40" lengthAdjust="spacingAndGlyphs" stroke="#ffffff" stroke-width="0.6">53</text>
<rect x="614.30" y="291.88" width="41.90" height="20.27" fill="#2c9a51"/>
<text x="635.75" y="307.55" font-size="13.9" fill="#ffffff" text-anchor="middle" textLength="13.40" lengthAdjust="spacingAndGlyphs" stroke="#ffffff" stroke-width="0.6">52</text>
<rect x="614.30" y="312.10" width="41.90" height="20.27" fill="#2f9d54"/>
<text x="635.75" y="327.77" font-size="13.9" fill="#ffffff" text-anchor="middle" textLength="13.40" lengthAdjust="spacingAndGlyphs" stroke="#ffffff" stroke-width="0.6">53</text>
<text x="683.75" y="87.00" font-size="12.9" fill="#3a3a3a" text-anchor="middle" textLength="18.40" lengthAdjust="spacingAndGlyphs" stroke="#3a3a3a" stroke-width="0.3">3/3</text>
<text x="683.75" y="106.00" font-size="14.4" fill="#111" font-weight="700" text-anchor="middle" textLength="24.20" lengthAdjust="spacingAndGlyphs">Mon</text>
<rect x="659.30" y="109.90" width="47.90" height="20.27" fill="#71c276"/>
<text x="683.75" y="125.57" font-size="13.9" fill="#0c3314" text-anchor="middle" textLength="13.40" lengthAdjust="spacingAndGlyphs" stroke="#0c3314" stroke-width="0.6">58</text>
<rect x="659.30" y="130.12" width="47.90" height="20.27" fill="#32a058"/>
<text x="683.75" y="145.79" font-size="13.9" fill="#ffffff" text-anchor="middle" textLength="13.40" lengthAdjust="spacingAndGlyphs" stroke="#ffffff" stroke-width="0.6">54</text>
<rect x="659.30" y="150.34" width="47.90" height="20.27" fill="#71c276"/>
<text x="683.75" y="166.01" font-size="13.9" fill="#0c3314" text-anchor="middle" textLength="13.40" lengthAdjust="spacingAndGlyphs" stroke="#0c3314" stroke-width="0.6">58</text>
<rect x="659.30" y="170.56" width="47.90" height="20.27" fill="#64bc6c"/>
<text x="683.75" y="186.23" font-size="13.9" fill="#0c3314" text-anchor="middle" textLength="13.40" lengthAdjust="spacingAndGlyphs" stroke="#0c3314" stroke-width="0.6">56</text>
<rect x="659.30" y="190.78" width="47.90" height="20.27" fill="#64bc6c"/>
<text x="683.75" y="206.45" font-size="13.9" fill="#0c3314" text-anchor="middle" textLength="13.40" lengthAdjust="spacingAndGlyphs" stroke="#0c3314" stroke-width="0.6">56</text>
<rect x="659.30" y="211.00" width="47.90" height="20.27" fill="#2a974e"/>
<text x="683.75" y="226.67" font-size="13.9" fill="#ffffff" text-anchor="middle" textLength="13.40" lengthAdjust="spacingAndGlyphs" stroke="#ffffff" stroke-width="0.6">51</text>
<rect x="659.30" y="231.22" width="47.90" height="20.27" fill="#64bc6c"/>
<text x="683.75" y="246.89" font-size="13.9" fill="#0c3314" text-anchor="middle" textLength="13.40" lengthAdjust="spacingAndGlyphs" stroke="#0c3314" stroke-width="0.6">56</text>
<rect x="659.30" y="251.44" width="47.90" height="20.27" fill="#2f9d54"/>
<text x="683.75" y="267.11" font-size="13.9" fill="#ffffff" text-anchor="middle" textLength="13.40" lengthAdjust="spacingAndGlyphs" stroke="#ffffff" stroke-width="0.6">53</text>
<rect x="659.30" y="271.66" width="47.90" height="20.27" fill="#5db868"/>
<text x="683.75" y="287.33" font-size="13.9" fill="#0c3314" text-anchor="middle" textLength="13.40" lengthAdjust="spacingAndGlyphs" stroke="#0c3314" stroke-width="0.6">55</text>
<rect x="659.30" y="291.88" width="47.90" height="20.27" fill="#78c67a"/>
<text x="683.75" y="307.55" font-size="13.9" fill="#0c3314" text-anchor="middle" textLength="13.40" lengthAdjust="spacingAndGlyphs" stroke="#0c3314" stroke-width="0.6">59</text>
<rect x="659.30" y="312.10" width="47.90" height="20.27" fill="#32a058"/>
<text x="683.75" y="327.77" font-size="13.9" fill="#ffffff" text-anchor="middle" textLength="13.40" lengthAdjust="spacingAndGlyphs" stroke="#ffffff" stroke-width="0.6">54</text>
<text x="731.25" y="87.00" font-size="12.9" fill="#3a3a3a" text-anchor="middle" textLength="19.00" lengthAdjust="spacingAndGlyphs" stroke="#3a3a3a" stroke-width="0.3">3/4</text>
<text x="731.25" y="106.00" font-size="14.4" fill="#111" font-weight="700" text-anchor="middle" textLength="20.00" lengthAdjust="spacingAndGlyphs">Tue</text>
<rect x="710.30" y="109.90" width="40.90" height="20.27" fill="#71c276"/>
<text x="731.25" y="125.57" font-size="13.9" fill="#0c3314" text-anchor="middle" textLength="13.40" lengthAdjust="spacingAndGlyphs" stroke="#0c3314" stroke-width="0.6">58</text>
<rect x="710.30" y="130.12" width="40.90" height="20.27" fill="#6abf71"/>
<text x="731.25" y="145.79" font-size="13.9" fill="#0c3314" text-anchor="middle" textLength="13.40" lengthAdjust="spacingAndGlyphs" stroke="#0c3314" stroke-width="0.6">57</text>
<rect x="710.30" y="150.34" width="40.90" height="20.27" fill="#98d690"/>
<text x="731.25" y="166.01" font-size="13.9" fill="#0c3314" text-anchor="middle" textLength="13.40" lengthAdjust="spacingAndGlyphs" stroke="#0c3314" stroke-width="0.6">60</text>
<rect x="710.30" y="170.56" width="40.90" height="20.27" fill="#71c276"/>
<text x="731.25" y="186.23" font-size="13.9" fill="#0c3314" text-anchor="middle" textLength="13.40" lengthAdjust="spacingAndGlyphs" stroke="#0c3314" stroke-width="0.6">58</text>
<rect x="710.30" y="190.78" width="40.90" height="20.27" fill="#71c276"/>
<text x="731.25" y="206.45" font-size="13.9" fill="#0c3314" text-anchor="middle" textLength="13.40" lengthAdjust="spacingAndGlyphs" stroke="#0c3314" stroke-width="0.6">58</text>
<rect x="710.30" y="211.00" width="40.90" height="20.27" fill="#32a058"/>
<text x="731.25" y="226.67" font-size="13.9" fill="#ffffff" text-anchor="middle" textLength="13.40" lengthAdjust="spacingAndGlyphs" stroke="#ffffff" stroke-width="0.6">54</text>
<rect x="710.30" y="231.22" width="40.90" height="20.27" fill="#71c276"/>
<text x="731.25" y="246.89" font-size="13.9" fill="#0c3314" text-anchor="middle" textLength="13.40" lengthAdjust="spacingAndGlyphs" stroke="#0c3314" stroke-width="0.6">58</text>
<rect x="710.30" y="251.44" width="40.90" height="20.27" fill="#32a058"/>
<text x="731.25" y="267.11" font-size="13.9" fill="#ffffff" text-anchor="middle" textLength="13.40" lengthAdjust="spacingAndGlyphs" stroke="#ffffff" stroke-width="0.6">54</text>
<rect x="710.30" y="271.66" width="40.90" height="20.27" fill="#64bc6c"/>
<text x="731.25" y="287.33" font-size="13.9" fill="#0c3314" text-anchor="middle" textLength="13.40" lengthAdjust="spacingAndGlyphs" stroke="#0c3314" stroke-width="0.6">56</text>
<rect x="710.30" y="291.88" width="40.90" height="20.27" fill="#a6dc9c"/>
<text x="731.25" y="307.55" font-size="13.9" fill="#0c3314" text-anchor="middle" textLength="13.40" lengthAdjust="spacingAndGlyphs" stroke="#0c3314" stroke-width="0.6">61</text>
<rect x="710.30" y="312.10" width="40.90" height="20.27" fill="#64bc6c"/>
<text x="731.25" y="327.77" font-size="13.9" fill="#0c3314" text-anchor="middle" textLength="13.40" lengthAdjust="spacingAndGlyphs" stroke="#0c3314" stroke-width="0.6">56</text>
<text x="778.75" y="87.00" font-size="12.9" fill="#3a3a3a" text-anchor="middle" textLength="18.40" lengthAdjust="spacingAndGlyphs" stroke="#3a3a3a" stroke-width="0.3">3/5</text>
<text x="778.75" y="106.00" font-size="14.4" fill="#111" font-weight="700" text-anchor="middle" textLength="24.90" lengthAdjust="spacingAndGlyphs">Wed</text>
<rect x="754.30" y="109.90" width="47.90" height="20.27" fill="#117730"/>
<text x="778.75" y="125.57" font-size="13.9" fill="#ffffff" text-anchor="middle" textLength="13.40" lengthAdjust="spacingAndGlyphs" stroke="#ffffff" stroke-width="0.6">45</text>
<rect x="754.30" y="130.12" width="47.90" height="20.27" fill="#175f66"/>
<text x="778.75" y="145.79" font-size="13.9" fill="#ffffff" text-anchor="middle" textLength="13.40" lengthAdjust="spacingAndGlyphs" stroke="#ffffff" stroke-width="0.6">44</text>
<rect x="754.30" y="150.34" width="47.90" height="20.27" fill="#127932"/>
<text x="778.75" y="166.01" font-size="13.9" fill="#ffffff" text-anchor="middle" textLength="13.40" lengthAdjust="spacingAndGlyphs" stroke="#ffffff" stroke-width="0.6">46</text>
<rect x="754.30" y="170.56" width="47.90" height="20.27" fill="#117730"/>
<text x="778.75" y="186.23" font-size="13.9" fill="#ffffff" text-anchor="middle" textLength="13.40" lengthAdjust="spacingAndGlyphs" stroke="#ffffff" stroke-width="0.6">45</text>
<rect x="754.30" y="190.78" width="47.90" height="20.27" fill="#117730"/>
<text x="778.75" y="206.45" font-size="13.9" fill="#ffffff" text-anchor="middle" textLength="13.40" lengthAdjust="spacingAndGlyphs" stroke="#ffffff" stroke-width="0.6">45</text>
<rect x="754.30" y="211.00" width="47.90" height="20.27" fill="#165b63"/>
<text x="778.75" y="226.67" font-size="13.9" fill="#ffffff" text-anchor="middle" textLength="13.40" lengthAdjust="spacingAndGlyphs" stroke="#ffffff" stroke-width="0.6">41</text>
<rect x="754.30" y="231.22" width="47.90" height="20.27" fill="#117730"/>
<text x="778.75" y="246.89" font-size="13.9" fill="#ffffff" text-anchor="middle" textLength="13.40" lengthAdjust="spacingAndGlyphs" stroke="#ffffff" stroke-width="0.6">45</text>
<rect x="754.30" y="251.44" width="47.90" height="20.27" fill="#165b63"/>
<text x="778.75" y="267.11" font-size="13.9" fill="#ffffff" text-anchor="middle" textLength="13.40" lengthAdjust="spacingAndGlyphs" stroke="#ffffff" stroke-width="0.6">41</text>
<rect x="754.30" y="271.66" width="47.90" height="20.27" fill="#117730"/>
<text x="778.75" y="287.33" font-size="13.9" fill="#ffffff" text-anchor="middle" textLength="13.40" lengthAdjust="spacingAndGlyphs" stroke="#ffffff" stroke-width="0.6">45</text>
<rect x="754.30" y="291.88" width="47.90" height="20.27" fill="#147d36"/>
<text x="778.75" y="307.55" font-size="13.9" fill="#ffffff" text-anchor="middle" textLength="13.40" lengthAdjust="spacingAndGlyphs" stroke="#ffffff" stroke-width="0.6">48</text>
<rect x="754.30" y="312.10" width="47.90" height="20.27" fill="#155a62"/>
<text x="778.75" y="327.77" font-size="13.9" fill="#ffffff" text-anchor="middle" textLength="13.40" lengthAdjust="spacingAndGlyphs" stroke="#ffffff" stroke-width="0.6">40</text>
<text x="826.75" y="87.00" font-size="12.9" fill="#3a3a3a" text-anchor="middle" textLength="18.60" lengthAdjust="spacingAndGlyphs" stroke="#3a3a3a" stroke-width="0.3">3/6</text>
<text x="826.75" y="106.00" font-size="14.4" fill="#111" font-weight="700" text-anchor="middle" textLength="20.40" lengthAdjust="spacingAndGlyphs">Thu</text>
<rect x="805.30" y="109.90" width="41.90" height="20.27" fill="#155a62"/>
<text x="826.75" y="125.57" font-size="13.9" fill="#ffffff" text-anchor="middle" textLength="13.40" lengthAdjust="spacingAndGlyphs" stroke="#ffffff" stroke-width="0.6">40</text>
<rect x="805.30" y="130.12" width="41.90" height="20.27" fill="#1e9aa6"/>
<text x="826.75" y="145.79" font-size="13.9" fill="#ffffff" text-anchor="middle" textLength="13.40" lengthAdjust="spacingAndGlyphs" stroke="#ffffff" stroke-width="0.6">39</text>
<rect x="805.30" y="150.34" width="41.90" height="20.27" fill="#155a62"/>
<text x="826.75" y="166.01" font-size="13.9" fill="#ffffff" text-anchor="middle" textLength="13.40" lengthAdjust="spacingAndGlyphs" stroke="#ffffff" stroke-width="0.6">40</text>
<rect x="805.30" y="170.56" width="41.90" height="20.27" fill="#1d98a4"/>
<text x="826.75" y="186.23" font-size="13.9" fill="#ffffff" text-anchor="middle" textLength="13.40" lengthAdjust="spacingAndGlyphs" stroke="#ffffff" stroke-width="0.6">38</text>
<rect x="805.30" y="190.78" width="41.90" height="20.27" fill="#1d98a4"/>
<text x="826.75" y="206.45" font-size="13.9" fill="#ffffff" text-anchor="middle" textLength="13.40" lengthAdjust="spacingAndGlyphs" stroke="#ffffff" stroke-width="0.6">38</text>
<rect x="805.30" y="211.00" width="41.90" height="20.27" fill="#1a93a0"/>
<text x="826.75" y="226.67" font-size="13.9" fill="#ffffff" text-anchor="middle" textLength="13.40" lengthAdjust="spacingAndGlyphs" stroke="#ffffff" stroke-width="0.6">36</text>
<rect x="805.30" y="231.22" width="41.90" height="20.27" fill="#1e9aa6"/>
<text x="826.75" y="246.89" font-size="13.9" fill="#ffffff" text-anchor="middle" textLength="13.40" lengthAdjust="spacingAndGlyphs" stroke="#ffffff" stroke-width="0.6">39</text>
<rect x="805.30" y="251.44" width="41.90" height="20.27" fill="#165b63"/>
<text x="826.75" y="267.11" font-size="13.9" fill="#ffffff" text-anchor="middle" textLength="13.40" lengthAdjust="spacingAndGlyphs" stroke="#ffffff" stroke-width="0.6">41</text>
<rect x="805.30" y="271.66" width="41.90" height="20.27" fill="#155a62"/>
<text x="826.75" y="287.33" font-size="13.9" fill="#ffffff" text-anchor="middle" textLength="13.40" lengthAdjust="spacingAndGlyphs" stroke="#ffffff" stroke-width="0.6">40</text>
<rect x="805.30" y="291.88" width="41.90" height="20.27" fill="#155a62"/>
<text x="826.75" y="307.55" font-size="13.9" fill="#ffffff" text-anchor="middle" textLength="13.40" lengthAdjust="spacingAndGlyphs" stroke="#ffffff" stroke-width="0.6">40</text>
<rect x="805.30" y="312.10" width="41.90" height="20.27" fill="#155a62"/>
<text x="826.75" y="327.77" font-size="13.9" fill="#ffffff" text-anchor="middle" textLength="13.40" lengthAdjust="spacingAndGlyphs" stroke="#ffffff" stroke-width="0.6">40</text>
<text x="869.25" y="87.00" font-size="12.9" fill="#3a3a3a" text-anchor="middle" textLength="17.90" lengthAdjust="spacingAndGlyphs" stroke="#3a3a3a" stroke-width="0.3">3/7</text>
<text x="869.25" y="106.00" font-size="14.4" fill="#111" font-weight="700" text-anchor="middle" textLength="14.40" lengthAdjust="spacingAndGlyphs">Fri</text>
<rect x="850.30" y="109.90" width="37.20" height="20.27" fill="#2c9a51"/>
<text x="869.25" y="125.57" font-size="13.9" fill="#ffffff" text-anchor="middle" textLength="13.40" lengthAdjust="spacingAndGlyphs" stroke="#ffffff" stroke-width="0.6">52</text>
<rect x="850.30" y="130.12" width="37.20" height="20.27" fill="#27944a"/>
<text x="869.25" y="145.79" font-size="13.9" fill="#ffffff" text-anchor="middle" textLength="13.40" lengthAdjust="spacingAndGlyphs" stroke="#ffffff" stroke-width="0.6">50</text>
<rect x="850.30" y="150.34" width="37.20" height="20.27" fill="#2a974e"/>
<text x="869.25" y="166.01" font-size="13.9" fill="#ffffff" text-anchor="middle" textLength="13.40" lengthAdjust="spacingAndGlyphs" stroke="#ffffff" stroke-width="0.6">51</text>
<rect x="850.30" y="170.56" width="37.20" height="20.27" fill="#157f38"/>
<text x="869.25" y="186.23" font-size="13.9" fill="#ffffff" text-anchor="middle" textLength="13.40" lengthAdjust="spacingAndGlyphs" stroke="#ffffff" stroke-width="0.6">49</text>
<rect x="850.30" y="190.78" width="37.20" height="20.27" fill="#157f38"/>
<text x="869.25" y="206.45" font-size="13.9" fill="#ffffff" text-anchor="middle" textLength="13.40" lengthAdjust="spacingAndGlyphs" stroke="#ffffff" stroke-width="0.6">49</text>
<rect x="850.30" y="211.00" width="37.20" height="20.27" fill="#137b34"/>
<text x="869.25" y="226.67" font-size="13.9" fill="#ffffff" text-anchor="middle" textLength="13.40" lengthAdjust="spacingAndGlyphs" stroke="#ffffff" stroke-width="0.6">47</text>
<rect x="850.30" y="231.22" width="37.20" height="20.27" fill="#157f38"/>
<text x="869.25" y="246.89" font-size="13.9" fill="#ffffff" text-anchor="middle" textLength="13.40" lengthAdjust="spacingAndGlyphs" stroke="#ffffff" stroke-width="0.6">49</text>
<rect x="850.30" y="251.44" width="37.20" height="20.27" fill="#137b34"/>
<text x="869.25" y="267.11" font-size="13.9" fill="#ffffff" text-anchor="middle" textLength="13.40" lengthAdjust="spacingAndGlyphs" stroke="#ffffff" stroke-width="0.6">47</text>
<rect x="850.30" y="271.66" width="37.20" height="20.27" fill="#2a974e"/>
<text x="869.25" y="287.33" font-size="13.9" fill="#ffffff" text-anchor="middle" textLength="13.40" lengthAdjust="spacingAndGlyphs" stroke="#ffffff" stroke-width="0.6">51</text>
<rect x="850.30" y="291.88" width="37.20" height="20.27" fill="#2a974e"/>
<text x="869.25" y="307.55" font-size="13.9" fill="#ffffff" text-anchor="middle" textLength="13.40" lengthAdjust="spacingAndGlyphs" stroke="#ffffff" stroke-width="0.6">51</text>
<rect x="850.30" y="312.10" width="37.20" height="20.27" fill="#27944a"/>
<text x="869.25" y="327.77" font-size="13.9" fill="#ffffff" text-anchor="middle" textLength="13.40" lengthAdjust="spacingAndGlyphs" stroke="#ffffff" stroke-width="0.6">50</text>
<rect x="574.80" y="109.20" width="312.70" height="1.40" fill="rgba(255,255,255,0.62)"/>
<rect x="574.80" y="129.42" width="312.70" height="1.40" fill="rgba(255,255,255,0.62)"/>
<rect x="574.80" y="149.64" width="312.70" height="1.40" fill="rgba(255,255,255,0.62)"/>
<rect x="574.80" y="169.86" width="312.70" height="1.40" fill="rgba(255,255,255,0.62)"/>
<rect x="574.80" y="190.08" width="312.70" height="1.40" fill="rgba(255,255,255,0.62)"/>
<rect x="574.80" y="210.30" width="312.70" height="1.40" fill="rgba(255,255,255,0.62)"/>
<rect x="574.80" y="230.52" width="312.70" height="1.40" fill="rgba(255,255,255,0.62)"/>
<rect x="574.80" y="250.74" width="312.70" height="1.40" fill="rgba(255,255,255,0.62)"/>
<rect x="574.80" y="270.96" width="312.70" height="1.40" fill="rgba(255,255,255,0.62)"/>
<rect x="574.80" y="291.18" width="312.70" height="1.40" fill="rgba(255,255,255,0.62)"/>
<rect x="574.80" y="311.40" width="312.70" height="1.40" fill="rgba(255,255,255,0.62)"/>
<rect x="574.80" y="331.62" width="312.70" height="1.40" fill="rgba(255,255,255,0.62)"/>
<rect x="572.75" y="72.8" width="1.5" height="259.92" fill="#adadad"/>
<rect x="612.25" y="72.8" width="1.5" height="259.92" fill="#adadad"/>
<rect x="657.25" y="72.8" width="1.5" height="259.92" fill="#adadad"/>
<rect x="708.25" y="72.8" width="1.5" height="259.92" fill="#adadad"/>
<rect x="752.25" y="72.8" width="1.5" height="259.92" fill="#adadad"/>
<rect x="803.25" y="72.8" width="1.5" height="259.92" fill="#adadad"/>
<rect x="848.25" y="72.8" width="1.5" height="259.92" fill="#adadad"/>
<text x="451.20" y="344.00" font-size="11" fill="#333" textLength="437.00" lengthAdjust="spacingAndGlyphs" stroke="#333" stroke-width="0.25">Created: 4 am CST Fri 2/28/2025  |  Values are minimums over the period beginning at the time shown.</text>
<rect x="0" y="354.6" width="900" height="104" fill="#ffffff"/>
<g id="info-icon"><circle cx="38.9" cy="373" r="13.9" fill="#fbfdfd" stroke="#7ba3b2" stroke-width="2.2"/>
<text x="38.9" y="382.2" font-family="'Liberation Serif', serif" font-weight="700" font-size="26.5" fill="#7ba3b2" stroke="#7ba3b2" stroke-width="0.5" text-anchor="middle">i</text></g>
<text x="59.50" y="380.80" font-size="21" fill="#222" font-weight="700" textLength="147.50" lengthAdjust="spacingAndGlyphs" stroke="#222" stroke-width="0.35">Key Messages</text>
<path d="M57 403 H70 M65.3 398.4 L70.3 403 L65.3 407.6" fill="none" stroke="#222" stroke-width="2.5" stroke-linecap="butt" stroke-linejoin="miter"/>
<path d="M57 423.2 H70 M65.3 418.59999999999997 L70.3 423.2 L65.3 427.8" fill="none" stroke="#222" stroke-width="2.5" stroke-linecap="butt" stroke-linejoin="miter"/>
<text x="84.20" y="408.80" font-size="14.4" fill="#222" font-weight="700" textLength="409.00" lengthAdjust="spacingAndGlyphs">Above normal temperatures expected into next week.</text>
<text x="84.20" y="429.10" font-size="14.4" fill="#222" font-weight="700" textLength="723.00" lengthAdjust="spacingAndGlyphs">Low potential for showers Sunday, moderate potential Monday night.  Very windy Tuesday with</text>
<text x="84.20" y="445.30" font-size="14.4" fill="#222" font-weight="700" textLength="170.00" lengthAdjust="spacingAndGlyphs">blowing dust possible.</text>
<rect x="0" y="456.8" width="900" height="7.3" fill="url(#tl2)"/>
<rect x="0" y="464" width="900" height="42" fill="#232323"/>
<g id="nws-logo">
<defs><linearGradient id="tl2" x1="0" y1="0" x2="0" y2="1"><stop offset="0" stop-color="#a5c0ca"/><stop offset="0.15" stop-color="#7ea4b3"/><stop offset="0.8" stop-color="#5f909d"/><stop offset="1" stop-color="#466b75"/></linearGradient><path id="ring" d="M 31.68 499.69 A 14.0 14.0 0 1 1 43.52 499.69"/>
<path id="ringb" d="M 31.44 503.91 A 18.0 18.0 0 0 0 43.76 503.91"/>
<linearGradient id="sky" x1="0" y1="0" x2="0" y2="1"><stop offset="0" stop-color="#2f93cc"/><stop offset="0.35" stop-color="#8fcbe8"/><stop offset="0.62" stop-color="#ffffff"/><stop offset="0.8" stop-color="#ffffff"/><stop offset="0.82" stop-color="#49a6d6"/><stop offset="1" stop-color="#3a9ad0"/></linearGradient>
<clipPath id="inner"><circle cx="37.6" cy="487" r="13.0"/></clipPath></defs>
<circle cx="37.6" cy="487" r="19.7" fill="#ffffff" stroke="#f0a0a0" stroke-width="0.7"/>
<text font-size="6.2" font-weight="700" fill="#e0282e" stroke="#e0282e" stroke-width="0.15"><textPath href="#ring" textLength="74.7" lengthAdjust="spacingAndGlyphs">NATIONAL WEATHER SERVICE</textPath></text>
<text font-size="3.6" font-weight="700" fill="#e0282e" letter-spacing="1.2" font-family="'DejaVu Sans', sans-serif"><textPath href="#ringb" startOffset="50%" text-anchor="middle">★★★</textPath></text>
<circle cx="37.6" cy="487" r="13.0" fill="url(#sky)"/>
<g clip-path="url(#inner)">
<path d="M24.4 487.5 C24.8 484 28 482.5 29.6 481.6 C30.5 479 33.5 477.8 36 478.6 C38.5 476.6 43 477 45.2 479.8 C48 480.5 50.6 483.2 51 485.8 C51.3 487.4 50.2 488.3 48.8 488.5 C48 490.8 45.5 491.8 43.4 491.4 C42.3 492.4 40.8 492.6 39.6 492 C37 493.6 33 493.4 31 491.8 C28 492.6 24.6 490.8 24.4 487.5 Z" fill="#0f0fa5"/>
<path d="M29.2 476.6 L31 476 L36.6 483.6 L35.4 484.2 L41.8 491.2 L40.6 491.6 L33.6 485.2 L34.8 484.4 Z" fill="#ffffff"/>
</g></g>
<text x="68.00" y="483.00" font-size="13.4" fill="#e6e6e6" textLength="308.00" lengthAdjust="spacingAndGlyphs">NATIONAL WEATHER SERVICE SAN ANGELO</text>
<text x="108.70" y="500.80" font-size="12.5" fill="#ffffff" font-weight="700" textLength="45.40" lengthAdjust="spacingAndGlyphs">Follow:</text>
<g id="x-icon"><path d="M158.2 489.6 L167.6 501.6" stroke="#f2f2f2" stroke-width="3" fill="none"/><path d="M158.2 489.6 L167.6 501.6" stroke="#232323" stroke-width="1.3" fill="none"/><path d="M157 489.4 H160 M166 501.8 H169" stroke="#f2f2f2" stroke-width="0.8"/><path d="M168.4 489.4 L163.9 494.6 M162.2 496.6 L157.6 501.8" stroke="#f2f2f2" stroke-width="0.9" fill="none"/></g>
<g id="fb-icon"><circle cx="179.7" cy="495.5" r="6.4" fill="#ffffff"/><path d="M180.6 502 V496.6 H182.4 L182.7 494.5 H180.6 V493.3 C180.6 492.6 180.9 492.2 181.7 492.2 H182.8 V490.4 C182.4 490.3 181.7 490.2 181 490.2 C179.3 490.2 178.3 491.2 178.3 493 V494.5 H176.5 V496.6 H178.3 V502 Z" fill="#232323"/></g>
<text x="192.80" y="500.60" font-size="12.8" fill="#9db4cf" textLength="112.20" lengthAdjust="spacingAndGlyphs">@NWSSanAngelo</text>
<text x="894.40" y="481.70" font-size="12.4" fill="#ffffff" text-anchor="end" textLength="90.00" lengthAdjust="spacingAndGlyphs">weather.gov/SJT</text>
<text x="894.40" y="495.90" font-size="11.7" fill="#859bb3" text-anchor="end" textLength="198.00" lengthAdjust="spacingAndGlyphs">Updated: Fri Feb 28, 2025 5:32 AM</text>
</svg>
</body></html>
